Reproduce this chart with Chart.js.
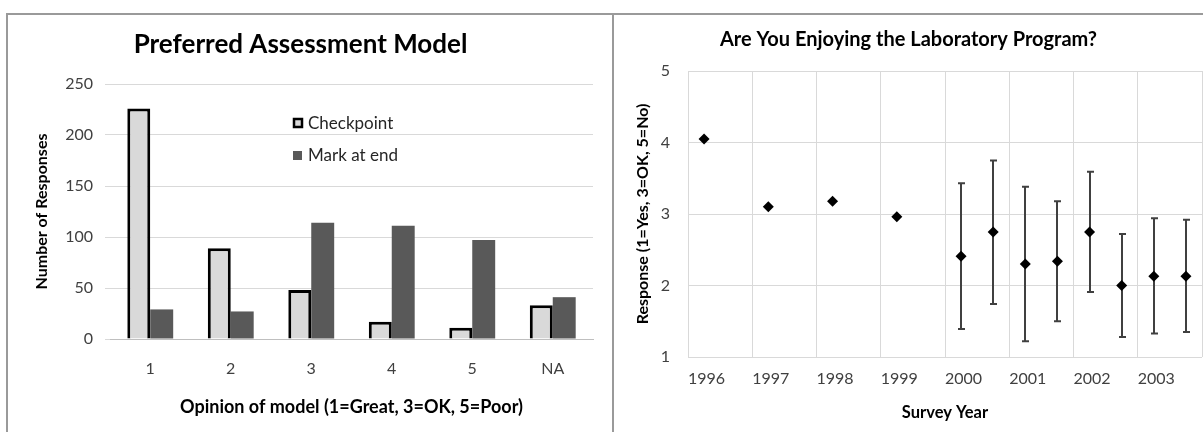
<!DOCTYPE html>
<html>
<head>
<meta charset="utf-8">
<script src="https://cdn.jsdelivr.net/npm/chart.js@4/dist/chart.umd.min.js"></script>
<style>
  html, body { margin: 0; padding: 0; background: #fff; overflow: hidden; width: 1203px; height: 432px; }
  .panel { position: absolute; box-sizing: border-box; border-top: 2px solid #9a9a9a; border-left: 2px solid #9a9a9a; }
  canvas { position: absolute; }
</style>
</head>
<body>
<div class="panel" style="left:6px; top:13px; width:607px; height:430px;"></div>
<div class="panel" style="left:612px; top:13px; width:600px; height:430px;"></div>
<canvas id="left" width="604" height="417" style="left:8px; top:15px;"></canvas>
<canvas id="right" width="600" height="417" style="left:615px; top:15px;"></canvas>
<script>
// ---------- Left chart data ----------
const opinionCategories = ['1', '2', '3', '4', '5', 'NA'];
const checkpointValues = [226, 89, 48, 17, 11, 33];
const markAtEndValues = [29, 27, 114, 111, 97, 41];
const responseTicks = [0, 50, 100, 150, 200, 250];

// ---------- Right chart data ----------
const surveyYears = [1996.25, 1997.25, 1998.25, 1999.25, 2000.25, 2000.75, 2001.25, 2001.75, 2002.25, 2002.75, 2003.25, 2003.75];
const meanResponse = [4.05, 3.10, 3.18, 2.96, 2.41, 2.75, 2.30, 2.34, 2.75, 2.00, 2.13, 2.13];
const upperResponse = [null, null, null, null, 3.43, 3.75, 3.38, 3.18, 3.59, 2.72, 2.94, 2.92];
const lowerResponse = [null, null, null, null, 1.39, 1.74, 1.22, 1.50, 1.91, 1.28, 1.33, 1.35];
const yearTickLabels = ['1996', '1997', '1998', '1999', '2000', '2001', '2002', '2003'];

const FONT = 'Lato, "Open Sans", sans-serif';
Chart.defaults.font.family = FONT;
Chart.defaults.color = '#404040';

// ---------- Left chart ----------
const legendPlugin = {
  id: 'insideLegend',
  afterDraw(chart) {
    const ctx = chart.ctx;
    ctx.save();
    ctx.font = '17px ' + FONT;
    ctx.textBaseline = 'middle';
    // Checkpoint
    ctx.fillStyle = '#d9d9d9';
    ctx.fillRect(286, 104, 8, 8);
    ctx.strokeStyle = '#000';
    ctx.lineWidth = 2.5;
    ctx.strokeRect(286, 104, 8, 8);
    ctx.fillStyle = '#262626';
    ctx.fillText(chart.data.datasets[0].label, 300, 109);
    // Mark at end
    ctx.fillStyle = '#595959';
    ctx.fillRect(285, 136, 9, 9);
    ctx.fillStyle = '#262626';
    ctx.fillText(chart.data.datasets[1].label, 300, 141);
    ctx.restore();
  }
};

new Chart(document.getElementById('left'), {
  type: 'bar',
  data: {
    labels: opinionCategories,
    datasets: [
      { label: 'Checkpoint', data: checkpointValues, backgroundColor: '#d9d9d9', borderColor: '#000', borderWidth: 3, borderSkipped: 'bottom' },
      { label: 'Mark at end', data: markAtEndValues, backgroundColor: '#595959', borderWidth: 0 }
    ]
  },
  options: {
    responsive: false,
    animation: false,
    devicePixelRatio: 1,
    layout: { padding: { left: 0, right: 19, top: 0, bottom: 0 } },
    datasets: { bar: { categoryPercentage: 0.57, barPercentage: 1.0 } },
    plugins: {
      legend: { display: false },
      tooltip: { enabled: false },
      title: {
        display: true,
        text: 'Preferred Assessment Model',
        color: '#000',
        font: { size: 26, weight: 'bold', family: FONT },
        padding: { top: 14.4, bottom: 23.4 }
      }
    },
    scales: {
      x: {
        grid: { display: false, drawTicks: false },
        border: { display: true, color: '#bfbfbf', width: 1 },
        ticks: { padding: 20, font: { size: 16 }, color: '#404040' },
        title: { display: true, text: 'Opinion of model (1=Great, 3=OK, 5=Poor)', color: '#000', font: { size: 18, weight: 'bold' }, padding: { top: 0, bottom: 14 } },
        afterFit(s) { s.height = 93; }
      },
      y: {
        min: 0, max: 250,
        afterBuildTicks(s) { s.ticks = responseTicks.map(v => ({ value: v })); },
        grid: { color: '#d9d9d9', lineWidth: 1, tickLength: 5, tickColor: '#d9d9d9' },
        border: { display: false },
        ticks: { padding: 12, font: { size: 16 }, color: '#404040' },
        title: { display: true, text: 'Number of Responses', color: '#000', font: { size: 16, weight: 'bold' }, padding: { top: 24, bottom: 0 } },
        afterFit(s) { s.width = 102; }
      }
    }
  },
  plugins: [legendPlugin]
});

// ---------- Right chart ----------
const errorBarPlugin = {
  id: 'errorBars',
  beforeDatasetsDraw(chart) {
    const ctx = chart.ctx;
    const xs = chart.scales.x, ys = chart.scales.y;
    ctx.save();
    ctx.strokeStyle = '#404040';
    ctx.lineWidth = 2;
    surveyYears.forEach((yr, i) => {
      if (upperResponse[i] == null || lowerResponse[i] == null) return;
      const px = Math.round(xs.getPixelForValue(yr));
      const top = ys.getPixelForValue(upperResponse[i]);
      const bot = ys.getPixelForValue(lowerResponse[i]);
      ctx.beginPath();
      ctx.moveTo(px, top); ctx.lineTo(px, bot);
      ctx.moveTo(px - 3, top); ctx.lineTo(px + 4, top);
      ctx.moveTo(px - 3, bot); ctx.lineTo(px + 4, bot);
      ctx.stroke();
    });
    ctx.restore();
  }
};

new Chart(document.getElementById('right'), {
  type: 'scatter',
  data: {
    datasets: [{
      label: 'Response',
      data: surveyYears.map((x, i) => ({ x: x, y: meanResponse[i] })),
      pointStyle: 'rectRot',
      pointRadius: 5.5,
      backgroundColor: '#000',
      borderColor: '#000',
      borderWidth: 0
    }]
  },
  options: {
    responsive: false,
    animation: false,
    devicePixelRatio: 1,
    layout: { padding: { left: 0, right: 13, top: 0, bottom: 0 } },
    plugins: {
      legend: { display: false },
      tooltip: { enabled: false },
      title: {
        display: true,
        text: 'Are You Enjoying the Laboratory Program?',
        color: '#000',
        font: { size: 20, weight: 'bold', family: FONT },
        padding: { top: 13, bottom: 19 }
      }
    },
    scales: {
      x: {
        type: 'linear',
        min: 1996, max: 2004,
        ticks: {
          stepSize: 1, align: 'start', padding: 12, font: { size: 16 }, color: '#404040',
          callback(v) { const i = Math.round(v) - 1996; return yearTickLabels[i] !== undefined ? yearTickLabels[i] : ''; }
        },
        grid: { color: '#d9d9d9', lineWidth: 1, drawTicks: false },
        border: { display: false },
        title: { display: true, text: 'Survey Year', color: '#000', font: { size: 16.5, weight: 'bold' }, padding: { top: 0, bottom: 9 } },
        afterFit(s) { s.height = 75; }
      },
      y: {
        min: 1, max: 5,
        ticks: { stepSize: 1, padding: 18, font: { size: 16 }, color: '#404040' },
        grid: { color: '#d9d9d9', lineWidth: 1, drawTicks: false },
        border: { display: false },
        title: { display: true, text: 'Response (1=Yes, 3=OK, 5=No)', color: '#000', font: { size: 16, weight: 'bold' }, padding: { top: 18, bottom: 0 } },
        afterFit(s) { s.width = 73; }
      }
    }
  },
  plugins: [errorBarPlugin]
});
</script>
</body>
</html>
